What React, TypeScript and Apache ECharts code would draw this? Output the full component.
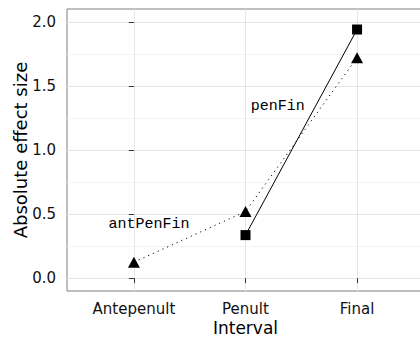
import React, { useEffect, useRef } from "react";
import * as echarts from "echarts";

const categories = ["Antepenult", "Penult", "Final"];
const yTicks = [0, 0.5, 1, 1.5, 2];
const yMinorTicks = [0.25, 0.75, 1.25, 1.75];
const antPenFinValues = [0.125, 0.52, 1.72];
const penFinValues: (number | null)[] = [null, 0.336, 1.94];
const antPenFinLabel = { text: "antPenFin", x: 0.135, y: 0.42 };
const penFinLabel = { text: "penFin", x: 1.29, y: 1.34 };

const SANS = "DejaVu Sans";
const MONO = "Liberation Mono";

export default function App() {
  const ref = useRef<HTMLDivElement>(null);
  useEffect(() => {
    if (!ref.current) return;
    const chart = echarts.init(ref.current, undefined, { renderer: "svg" });
    const toPairs = (vals: (number | null)[]) =>
      vals
        .map((v, i) => (v == null ? null : [i, v]))
        .filter((p) => p != null);
    const xTickVals = categories.map((_, i) => i);
    const labelMark = (lab: { text: string; x: number; y: number }) => ({
      symbol: "circle",
      symbolSize: 0,
      label: {
        show: true,
        position: "inside",
        formatter: lab.text,
        fontFamily: MONO,
        fontSize: 15,
        color: "#000",
      },
      data: [{ coord: [lab.x, lab.y] }],
    });
    chart.setOption({
      animation: false,
      backgroundColor: "#fff",
      grid: {
        left: 67,
        top: 9,
        right: 0,
        bottom: 48,
        outerBoundsMode: "none",
        containLabel: false,
        show: true,
        borderColor: "#7f7f7f",
        borderWidth: 1,
        backgroundColor: "transparent",
      },
      xAxis: {
        type: "value",
        min: -0.6,
        max: 2.6,
        name: "Interval",
        nameLocation: "middle",
        nameGap: 28,
        nameMoveOverlap: false,
        nameTextStyle: { fontFamily: SANS, fontSize: 17, color: "#000" },
        axisLine: { show: false },
        axisTick: {
          show: true,
          customValues: xTickVals,
          length: 5,
          lineStyle: { color: "#333", width: 1 },
        },
        axisLabel: {
          customValues: xTickVals,
          formatter: (v: number) => categories[Math.round(v)] ?? "",
          fontFamily: SANS,
          fontSize: 15,
          color: "#111",
          margin: 10,
        },
        splitLine: { show: true, lineStyle: { color: "#e5e5e5", width: 1 } },
      },
      yAxis: [
        {
          type: "value",
          min: -0.1,
          max: 2.1,
          name: "Absolute effect size",
          nameLocation: "middle",
          nameGap: 38,
          nameMoveOverlap: false,
          nameTextStyle: { fontFamily: SANS, fontSize: 18, color: "#000" },
          axisLine: { show: false },
          axisTick: {
            show: true,
            customValues: yTicks,
            length: 5,
            lineStyle: { color: "#333", width: 1 },
          },
          axisLabel: {
            customValues: yTicks,
            formatter: (v: number) => v.toFixed(1),
            fontFamily: SANS,
            fontSize: 15,
            color: "#111",
            margin: 11,
          },
          splitLine: { show: true, lineStyle: { color: "#e5e5e5", width: 1 } },
        },
        {
          type: "value",
          min: -0.1,
          max: 2.1,
          position: "left",
          axisLine: { show: false },
          axisTick: { show: false, customValues: yMinorTicks },
          axisLabel: { show: false, customValues: yMinorTicks },
          splitLine: { show: true, lineStyle: { color: "#f3f3f3", width: 1 } },
        },
      ],
      series: [
        {
          name: "antPenFin",
          type: "line",
          data: toPairs(antPenFinValues),
          symbol: "triangle",
          symbolSize: [12, 11],
          itemStyle: { color: "#000" },
          lineStyle: { color: "#000", width: 1, type: [1.2, 4] },
          markPoint: labelMark(antPenFinLabel),
          z: 3,
        },
        {
          name: "penFin",
          type: "line",
          data: toPairs(penFinValues),
          symbol: "rect",
          symbolSize: 10,
          itemStyle: { color: "#000" },
          lineStyle: { color: "#000", width: 1 },
          markPoint: labelMark(penFinLabel),
          z: 3,
        },
      ],
    });
    return () => chart.dispose();
  }, []);
  return (
    <div style={{ position: "absolute", left: 0, top: 0, width: 420, height: 339, overflow: "hidden" }}>
      <div ref={ref} style={{ width: 424, height: 339 }} />
    </div>
  );
}
